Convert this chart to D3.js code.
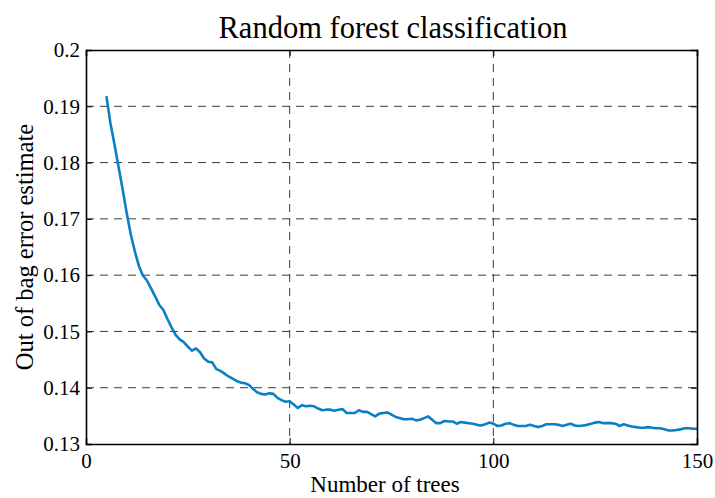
<!DOCTYPE html>
<html>
<head>
<meta charset="utf-8">
<script src="https://cdn.jsdelivr.net/npm/d3@7"></script>
<style>
  html, body { margin: 0; padding: 0; background: #fff; }
  svg { display: block; }
  text { font-family: "Liberation Serif", "DejaVu Serif", serif; fill: #000; }
</style>
</head>
<body>
<svg id="chart" width="715" height="498"></svg>
<script>
// Out-of-bag classification error as the forest grows (trees 5..150)
const firstTree = 5;
const oobError = [
  0.1918, 0.1870, 0.1832, 0.1792, 0.1752, 0.1710, 0.1672, 0.1642, 0.1616, 0.1599,
  0.1590, 0.1576, 0.1562, 0.1547, 0.1538, 0.1522, 0.1507, 0.1494, 0.1486, 0.1481,
  0.1473, 0.1466, 0.1470, 0.1463, 0.1452, 0.1446, 0.1445, 0.1433, 0.1430, 0.1425,
  0.1420, 0.1416, 0.1412, 0.1409, 0.1408, 0.1405, 0.1398, 0.1392, 0.1389, 0.1388,
  0.1390, 0.1389, 0.1382, 0.1378, 0.1375, 0.1376, 0.1370, 0.1364, 0.1369, 0.1367,
  0.1368, 0.1367, 0.1363, 0.1360, 0.1361, 0.1361, 0.1359, 0.1361, 0.1362, 0.1355,
  0.1355, 0.1355, 0.1360, 0.1357, 0.1357, 0.1353, 0.1349, 0.1354, 0.1355, 0.1356,
  0.1352, 0.1348, 0.1346, 0.1344, 0.1344, 0.1345, 0.1342, 0.1343, 0.1346, 0.1349,
  0.1343, 0.1337, 0.1337, 0.1341, 0.1340, 0.1340, 0.1336, 0.1339, 0.1338, 0.1337,
  0.1336, 0.1334, 0.1333, 0.1335, 0.1338, 0.1336, 0.1332, 0.1333, 0.1336, 0.1337,
  0.1334, 0.1332, 0.1332, 0.1332, 0.1334, 0.1332, 0.1330, 0.1332, 0.1335, 0.1335,
  0.1335, 0.1334, 0.1332, 0.1334, 0.1336, 0.1333, 0.1332, 0.1333, 0.1334, 0.1336,
  0.1338, 0.1339, 0.1337, 0.1337, 0.1337, 0.1336, 0.1332, 0.1335, 0.1333, 0.1331,
  0.1330, 0.1329, 0.1329, 0.1330, 0.1329, 0.1328, 0.1328, 0.1326, 0.1324, 0.1324,
  0.1325, 0.1326, 0.1328, 0.1328, 0.1327, 0.1327
];
const xTicks = [0, 50, 100, 150];
const xTickLabels = ["0", "50", "100", "150"];
const yTicks = [0.13, 0.14, 0.15, 0.16, 0.17, 0.18, 0.19, 0.2];
const yTickLabels = ["0.13", "0.14", "0.15", "0.16", "0.17", "0.18", "0.19", "0.2"];

const titleText = "Random forest classification";
const xLabelText = "Number of trees";
const yLabelText = "Out of bag error estimate";

const plotLeft = 86, plotRight = 697, plotTop = 50, plotBottom = 444;
const x = d3.scaleLinear().domain([0, 150]).range([plotLeft, plotRight]);
const y = d3.scaleLinear().domain([0.13, 0.2]).range([plotBottom, plotTop]);

const svg = d3.select("#chart");

// dashed grid
const grid = svg.append("g").attr("stroke", "#3a3a3a").attr("stroke-width", 1)
  .attr("stroke-dasharray", "8,6").attr("fill", "none");
grid.selectAll("line.gx").data(xTicks.filter(d => d > 0 && d < 150)).join("line")
  .attr("class", "gx")
  .attr("x1", d => x(d)).attr("x2", d => x(d))
  .attr("y1", plotTop).attr("y2", plotBottom);
grid.selectAll("line.gy").data(yTicks.filter(d => d > 0.13 && d < 0.2)).join("line")
  .attr("class", "gy")
  .attr("y1", d => y(d)).attr("y2", d => y(d))
  .attr("x1", plotLeft).attr("x2", plotRight);

// data line
const series = oobError.map((v, i) => ({ n: firstTree + i, v }));
svg.append("path")
  .datum(series)
  .attr("fill", "none")
  .attr("stroke", "#0a7fc6")
  .attr("stroke-width", 2.6)
  .attr("stroke-linejoin", "round")
  .attr("d", d3.line().x(d => x(d.n)).y(d => y(d.v)));

// axes with inward ticks
const fmtX = (d, i) => xTickLabels[i];
const fmtY = (d, i) => yTickLabels[i];
const ax = svg.append("g").attr("transform", `translate(0,${plotBottom})`)
  .call(d3.axisBottom(x).tickValues(xTicks).tickFormat(fmtX).tickSize(-6).tickPadding(9));
const ay = svg.append("g").attr("transform", `translate(${plotLeft},0)`)
  .call(d3.axisLeft(y).tickValues(yTicks).tickFormat(fmtY).tickSize(-6).tickPadding(6));
const at = svg.append("g").attr("transform", `translate(0,${plotTop})`)
  .call(d3.axisTop(x).tickValues(xTicks).tickFormat("").tickSize(-6));
const ar = svg.append("g").attr("transform", `translate(${plotRight},0)`)
  .call(d3.axisRight(y).tickValues(yTicks).tickFormat("").tickSize(-6));

[ax, ay, at, ar].forEach(g => {
  g.selectAll(".domain").attr("stroke", "#000").attr("stroke-width", 1.6);
  g.selectAll(".tick line").attr("stroke", "#000").attr("stroke-width", 1);
  g.selectAll(".tick text").attr("font-family", "Liberation Serif, serif")
    .attr("font-size", 21).attr("fill", "#000");
});

// title and axis labels
svg.append("text").attr("x", 393).attr("y", 38)
  .attr("text-anchor", "middle").attr("font-size", 30.5).text(titleText);
svg.append("text").attr("x", 385).attr("y", 492)
  .attr("text-anchor", "middle").attr("font-size", 23).text(xLabelText);
svg.append("text")
  .attr("transform", `translate(33,${(plotTop + plotBottom) / 2}) rotate(-90)`)
  .attr("text-anchor", "middle").attr("font-size", 24.5).text(yLabelText);
</script>
</body>
</html>
